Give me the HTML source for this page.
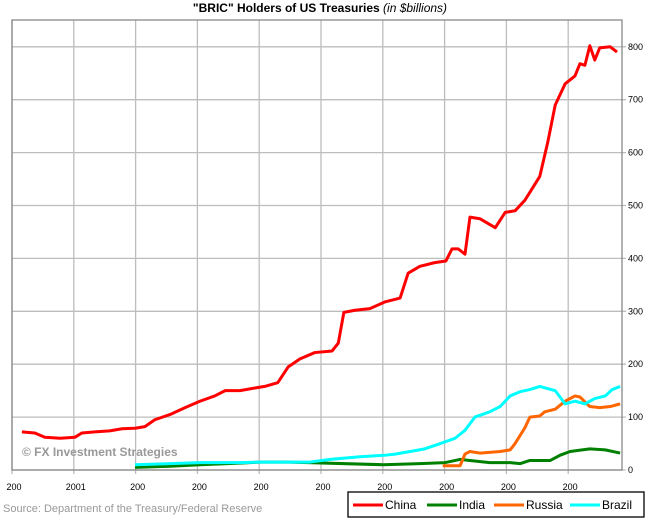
<!DOCTYPE html>
<html><head><meta charset="utf-8"><style>
body{margin:0;background:#fff;font-family:"Liberation Sans",sans-serif}
svg text{font-family:"Liberation Sans",sans-serif}
</style></head><body>
<svg width="648" height="519">
<g id="grid"></g>
<g id="series"></g>
<g id="axes"></g>
</svg>
<script>
const xTickLabels=["200","2001","200","200","200","200","200","200","200","200"];
const yTicks=[0,100,200,300,400,500,600,700,800];
const chinaX=[2000.16,2000.37,2000.53,2000.78,2001.02,2001.13,2001.34,2001.58,2001.78,2001.99,2002.15,2002.31,2002.56,2002.80,2003.04,2003.28,2003.45,2003.69,2003.93,2004.09,2004.30,2004.47,2004.66,2004.90,2005.18,2005.28,2005.37,2005.55,2005.79,2006.04,2006.28,2006.41,2006.60,2006.84,2007.02,2007.12,2007.22,2007.33,2007.41,2007.57,2007.82,2007.98,2008.14,2008.30,2008.54,2008.67,2008.79,2008.95,2009.11,2009.19,2009.27,2009.35,2009.43,2009.51,2009.68,2009.79];
const chinaY=[72,70,62,60,62,70,72,74,78,79,82,95,105,118,130,140,150,150,155,158,165,195,210,222,225,240,298,302,305,318,325,372,385,392,395,418,418,408,478,475,458,487,490,510,555,620,690,730,745,768,765,802,775,798,800,790];
const indiaX=[2001.99,2002.56,2003.04,2003.69,2004.01,2004.50,2006.00,2006.60,2007.01,2007.25,2007.41,2007.73,2008.06,2008.22,2008.38,2008.71,2008.87,2009.03,2009.35,2009.60,2009.84];
const indiaY=[5,7,10,13,15,15,10,12,14,20,18,14,14,12,18,18,28,35,40,38,32];
const russiaX=[2006.97,2007.25,2007.33,2007.41,2007.57,2007.90,2008.06,2008.14,2008.30,2008.38,2008.54,2008.62,2008.79,2008.95,2009.11,2009.19,2009.35,2009.51,2009.68,2009.84];
const russiaY=[8,8,30,35,32,35,38,50,80,100,102,110,115,130,140,138,120,118,120,125];
const brazilX=[2001.99,2002.56,2003.04,2003.69,2004.01,2004.50,2004.82,2005.15,2005.63,2006.04,2006.20,2006.44,2006.68,2006.93,2007.17,2007.33,2007.49,2007.73,2007.90,2008.06,2008.22,2008.38,2008.54,2008.79,2008.95,2009.11,2009.27,2009.43,2009.60,2009.71,2009.84];
const brazilY=[10,12,14,14,15,15,15,20,25,28,30,35,40,50,60,75,100,110,120,140,148,152,158,150,125,130,125,135,140,152,158];

const NS="http://www.w3.org/2000/svg";
const X0=12,XS=61.8,Y0=470,YS=0.529,L=12,R=622,T=20;
const xs=v=>X0+(v-2000)*XS, ys=v=>Y0-v*YS;
function mk(tag,attrs,parent){const e=document.createElementNS(NS,tag);for(const k in attrs)e.setAttribute(k,attrs[k]);parent.appendChild(e);return e;}
const grid=document.getElementById('grid'),axes=document.getElementById('axes'),ser=document.getElementById('series');
xTickLabels.forEach((t,i)=>{
  const x=xs(2000+i);
  const ln=mk('line',{x1:x,x2:x,y1:T,y2:Y0+4,stroke:'#bdbdbd','stroke-width':1.3},grid);
  
  
  const tx=mk('text',{x:x+2,y:490,'font-size':9,'text-anchor':'middle',fill:'#000'},axes);
  tx.textContent=t;
  
  
});
yTicks.forEach(v=>{
  const y=ys(v);
  const ln=mk('line',{x1:L,x2:R+4,y1:y,y2:y,stroke:'#bdbdbd','stroke-width':1.3},grid);
  
  
  const tx=mk('text',{x:628,y:y+3,'font-size':9,fill:'#000'},axes);
  tx.textContent=v;
  
  
});
const box=mk('rect',{x:L,y:T,width:R-L,height:Y0-T,fill:'none',stroke:'#888','stroke-width':1.3},axes);


function line(xa,ya,col,name){
  const p=mk('polyline',{points:xa.map((x,i)=>xs(x)+','+ys(ya[i])).join(' '),fill:'none',stroke:col,'stroke-width':3,'stroke-linejoin':'round'},ser);
  
  
}
line(chinaX,chinaY,'#ff0000','china-line');
line(indiaX,indiaY,'#008000','india-line');
line(russiaX,russiaY,'#ff6600','russia-line');
line(brazilX,brazilY,'#00ffff','brazil-line');
</script>
<svg style="position:absolute;left:0;top:0" width="648" height="519">
<text x="320" y="12" font-size="12" font-weight="bold" text-anchor="middle">"BRIC" Holders of US Treasuries <tspan font-weight="normal" font-style="italic">(in $billions)</tspan></text>
<text x="22" y="456" font-size="12" font-weight="bold" fill="#999">© FX Investment Strategies</text>
<text x="3" y="512" font-size="11" fill="#999">Source: Department of the Treasury/Federal Reserve</text>
<g>
<rect x="348" y="492" width="296" height="25" fill="#fff" stroke="#000" stroke-width="1.3"/>
<line x1="353" y1="505" x2="383" y2="505" stroke="#ff0000" stroke-width="3"/><text x="385" y="509" font-size="12">China</text>
<line x1="427" y1="505" x2="457" y2="505" stroke="#008000" stroke-width="3"/><text x="459" y="509" font-size="12">India</text>
<line x1="494" y1="505" x2="524" y2="505" stroke="#ff6600" stroke-width="3"/><text x="526" y="509" font-size="12">Russia</text>
<line x1="570" y1="505" x2="600" y2="505" stroke="#00ffff" stroke-width="3"/><text x="602" y="509" font-size="12">Brazil</text>
</g>
</svg>
</body></html>
